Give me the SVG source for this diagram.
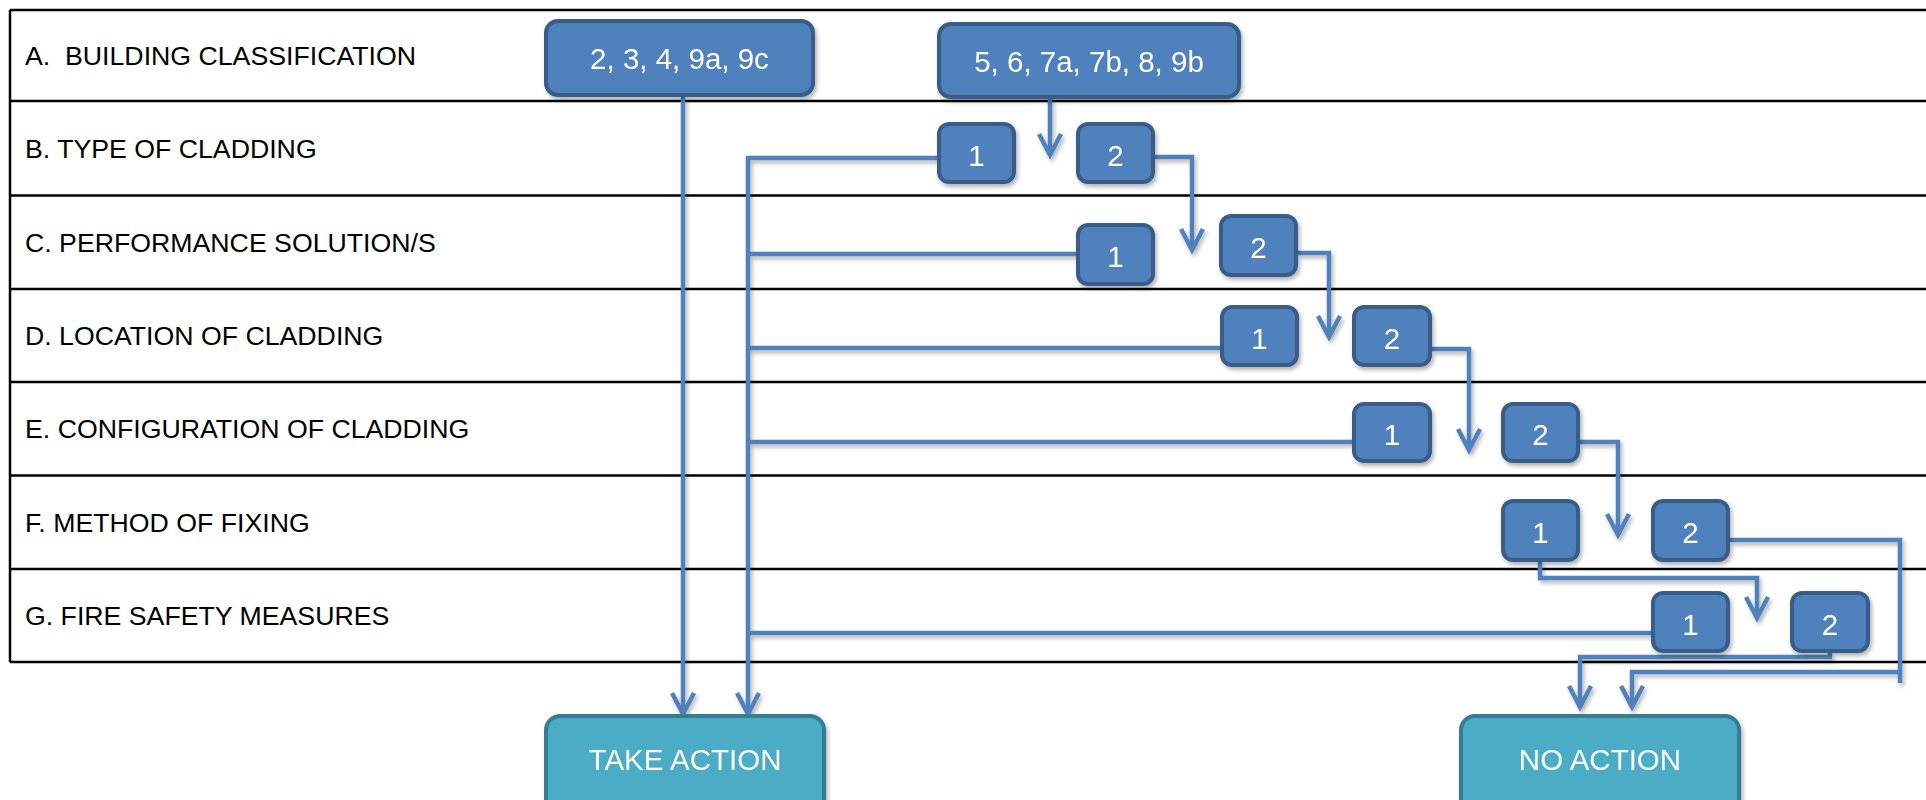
<svg xmlns="http://www.w3.org/2000/svg" width="1926" height="800" viewBox="0 0 1926 800">
<defs>
<style>
.grid{stroke:#000;stroke-width:2.5;fill:none}
.lbl{font-family:"Liberation Sans",Arial,sans-serif;font-size:26.7px;fill:#000}
.box rect{fill:#4F81BD;stroke:#385D8A;stroke-width:4}
.box text{font-family:"Liberation Sans",Arial,sans-serif;font-size:29.5px;fill:#fff;text-anchor:middle}
.end rect{fill:#4BACC6;stroke:#357D91;stroke-width:4}
.end text{font-family:"Liberation Sans",Arial,sans-serif;font-size:29.5px;fill:#fff;text-anchor:middle}
.con path{stroke:#4F81BD;stroke-width:4.5;fill:none;stroke-linejoin:miter}
.arr{marker-end:url(#ah)}
</style>
<filter id="sh" x="-20%" y="-20%" width="140%" height="140%">
<feDropShadow dx="2" dy="3" stdDeviation="2" flood-color="#000" flood-opacity="0.3"/>
</filter>
<marker id="ah" markerUnits="userSpaceOnUse" viewBox="-26 -14 30 28" markerWidth="30" markerHeight="28" refX="0" refY="0" orient="auto" overflow="visible">
<path d="M-21,-11 L0,0 L-21,11" fill="none" stroke="#4F81BD" stroke-width="4.5" stroke-linejoin="miter"/>
</marker>
</defs>
<rect width="1926" height="800" fill="#fff"/>
<g id="table">
<path class="grid" d="M10,10 H1926 M10,101 H1926 M10,195.5 H1926 M10,289 H1926 M10,382 H1926 M10,475.5 H1926 M10,569 H1926 M10,662 H1926 M10,10 V662"/>
<text class="lbl" x="25" y="65" xml:space="preserve">A.  BUILDING CLASSIFICATION</text>
<text class="lbl" x="25" y="158">B. TYPE OF CLADDING</text>
<text class="lbl" x="25" y="251.5">C. PERFORMANCE SOLUTION/S</text>
<text class="lbl" x="25" y="345">D. LOCATION OF CLADDING</text>
<text class="lbl" x="25" y="438">E. CONFIGURATION OF CLADDING</text>
<text class="lbl" x="25" y="531.5">F. METHOD OF FIXING</text>
<text class="lbl" x="25" y="624.5">G. FIRE SAFETY MEASURES</text>
</g>
<g id="connectors" class="con" filter="url(#sh)">
<path class="arr" d="M683,97 V714"/>
<path class="arr" d="M937,158 H748 V714"/>
<path d="M1076,254 H748"/>
<path d="M1220,348 H748"/>
<path d="M1352,442 H748"/>
<path d="M1651,633 H748"/>
<path class="arr" d="M1050,99 V155"/>
<path class="arr" d="M1155,157 H1192 V250"/>
<path class="arr" d="M1298,253 H1329 V337"/>
<path class="arr" d="M1432,349 H1469 V450"/>
<path class="arr" d="M1580,442 H1618 V535"/>
<path class="arr" d="M1540,562 V578 H1757 V618"/>
<path d="M1730,540 H1900 V683"/>
<path class="arr" d="M1900,672 H1632 V707"/>
<path class="arr" d="M1830,653 V657 H1580 V707"/>
</g>
<g id="n-a1" class="box" filter="url(#sh)"><rect x="546" y="21" width="267" height="74" rx="12"/><text x="679.5" y="69">2, 3, 4, 9a, 9c</text></g>
<g id="n-a2" class="box" filter="url(#sh)"><rect x="939" y="24" width="300" height="73" rx="12"/><text x="1089" y="71.5">5, 6, 7a, 7b, 8, 9b</text></g>
<g id="n-b1" class="box" filter="url(#sh)"><rect x="939" y="124" width="75" height="58" rx="10"/><text x="976.5" y="165.5">1</text></g>
<g id="n-b2" class="box" filter="url(#sh)"><rect x="1078" y="124" width="75" height="58" rx="10"/><text x="1115.5" y="165.5">2</text></g>
<g id="n-c1" class="box" filter="url(#sh)"><rect x="1078" y="225" width="75" height="59" rx="10"/><text x="1115.5" y="267">1</text></g>
<g id="n-c2" class="box" filter="url(#sh)"><rect x="1221" y="216" width="75" height="59" rx="10"/><text x="1258.5" y="258">2</text></g>
<g id="n-d1" class="box" filter="url(#sh)"><rect x="1222" y="307" width="75" height="58" rx="10"/><text x="1259.5" y="348.5">1</text></g>
<g id="n-d2" class="box" filter="url(#sh)"><rect x="1354" y="307" width="76" height="58" rx="10"/><text x="1392" y="348.5">2</text></g>
<g id="n-e1" class="box" filter="url(#sh)"><rect x="1354" y="404" width="76" height="57" rx="10"/><text x="1392" y="445">1</text></g>
<g id="n-e2" class="box" filter="url(#sh)"><rect x="1503" y="404" width="75" height="57" rx="10"/><text x="1540.5" y="445">2</text></g>
<g id="n-f1" class="box" filter="url(#sh)"><rect x="1503" y="501" width="75" height="59" rx="10"/><text x="1540.5" y="543">1</text></g>
<g id="n-f2" class="box" filter="url(#sh)"><rect x="1653" y="501" width="75" height="59" rx="10"/><text x="1690.5" y="543">2</text></g>
<g id="n-g1" class="box" filter="url(#sh)"><rect x="1653" y="593" width="75" height="58" rx="10"/><text x="1690.5" y="634.5">1</text></g>
<g id="n-g2" class="box" filter="url(#sh)"><rect x="1792" y="593" width="76" height="58" rx="10"/><text x="1830" y="634.5">2</text></g>
<g id="n-take" class="end" filter="url(#sh)"><rect x="546" y="716" width="278" height="100" rx="14"/><text x="685" y="770">TAKE ACTION</text></g>
<g id="n-no" class="end" filter="url(#sh)"><rect x="1461" y="716" width="278" height="100" rx="14"/><text x="1600" y="770">NO ACTION</text></g>
</svg>
